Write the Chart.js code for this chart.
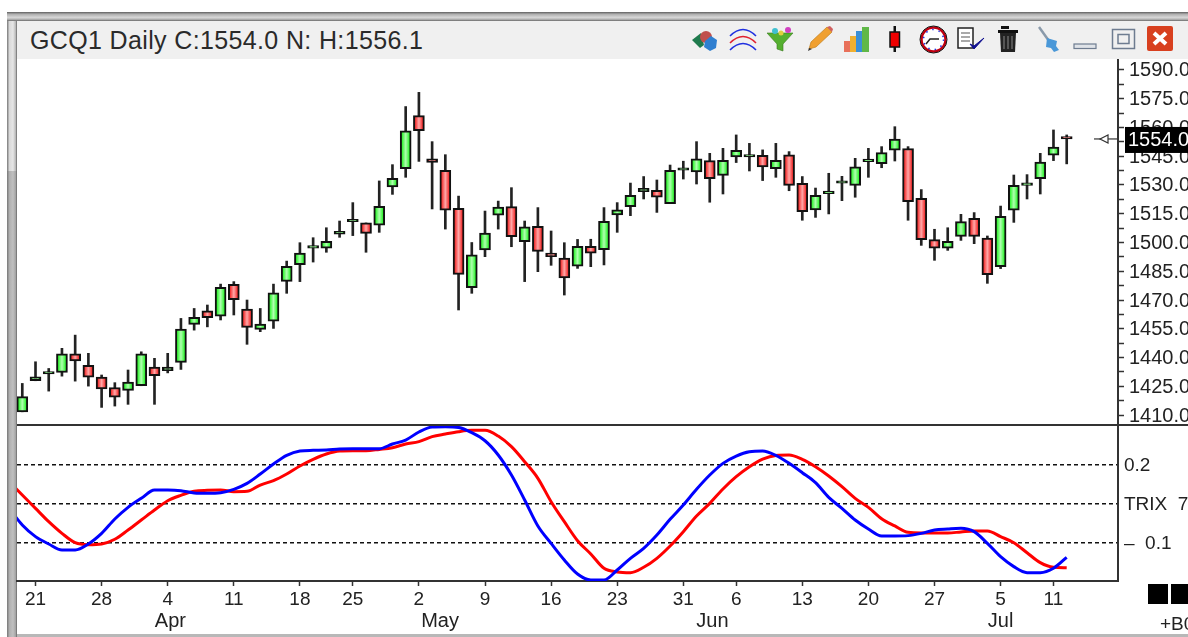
<!DOCTYPE html>
<html>
<head>
<meta charset="utf-8">
<title>GCQ1 Daily</title>
<script src="https://cdn.jsdelivr.net/npm/chart.js@4"></script>
<style>
  html, body { margin: 0; padding: 0; background: #fff; overflow: hidden; }
  body { width: 1188px; height: 637px; position: relative; font-family: "Liberation Sans", Arial, sans-serif; }
  .abs { position: absolute; }
  #frameTop { left: 7px; top: 12px; width: 1181px; height: 9px; background: linear-gradient(#5e5e5e, #b0b0b0 25%, #d6d6d6 60%, #b8b8b8 80%, #6a6a6a); }
  #frameLeftA { left: 7px; top: 21px; width: 10px; height: 150px; background: linear-gradient(90deg, #777, #d9d9d9 25%, #e6e6e6 60%, #bbb 85%, #666); }
  #frameLeftB { left: 7px; top: 171px; width: 10px; height: 466px; background: linear-gradient(90deg, #777, #b0b0b0 25%, #c0c0c0 60%, #a5a5a5 85%, #666); }
  #frameBottom { left: 17px; top: 634px; width: 1171px; height: 3px; background: #b8b8b8; }
  #header { left: 17px; top: 21px; width: 1171px; height: 38px; background: #f0f0f0; }
  #title { left: 30px; top: 25px; font-size: 25px; line-height: 30px; letter-spacing: 0.36px; color: #2a2a2a; white-space: pre; }
  #split { left: 17px; top: 424px; width: 1171px; height: 2px; background: #333; }
  #main { left: 0; top: 59px; }
  #lower { left: 0; top: 426px; }
  .sq { top: 584px; height: 20px; background: #000; }
  #plus { left: 1160px; top: 613px; font-size: 19px; line-height: 22px; color: #222; white-space: pre; }
</style>
</head>
<body>
<div class="abs" id="frameTop"></div>
<div class="abs" id="frameLeftA"></div>
<div class="abs" id="frameLeftB"></div>
<div class="abs" id="frameBottom"></div>
<div class="abs" id="header"></div>
<div class="abs" id="title">GCQ1 Daily C:1554.0 N: H:1556.1</div>
<svg class="abs" style="left:0;top:0" width="1188" height="60" xmlns="http://www.w3.org/2000/svg">
  <!-- gems -->
  <path d="M692 40l9-7 3 12-4 3z" fill="#1f7a4d"/>
  <circle cx="706" cy="37" r="6" fill="#c0504d"/>
  <path d="M705 41l6-5 6 4-1 8-6 3-6-4z" fill="#2f7fd0"/>
  <!-- arcs -->
  <g fill="none" stroke-width="1.6">
    <path d="M730 36q13-13 26 0" stroke="#2030e0"/>
    <path d="M730 43q13-13 26 0" stroke="#e02030"/>
    <path d="M730 50q13-13 26 0" stroke="#2030e0"/>
  </g>
  <!-- funnel -->
  <path d="M767 33h26l-10 11v7l-6-2v-5z" fill="#55b030" stroke="#3a7a20" stroke-width=".6"/>
  <circle cx="775" cy="31" r="3" fill="#40c0d0"/>
  <circle cx="788" cy="30" r="3" fill="#d040c0"/>
  <circle cx="781" cy="33" r="2.5" fill="#e0d040"/>
  <!-- pencil -->
  <path d="M809 49l2-7 16-15 5 5-16 15z" fill="#f0a030" stroke="#c08020" stroke-width=".7"/>
  <path d="M827 27l5 5 1-3-3-3z" fill="#d06060"/>
  <path d="M808 51l1-3 3 1z" fill="#333"/>
  <!-- bars -->
  <rect x="844" y="41" width="6" height="11" fill="#e8705a"/>
  <rect x="850" y="36" width="6" height="16" fill="#f0b030"/>
  <rect x="856" y="31" width="6" height="21" fill="#3a90d8"/>
  <rect x="862" y="27" width="7" height="25" fill="#60b848"/>
  <!-- candle -->
  <rect x="893.5" y="26" width="2.5" height="26" fill="#111"/>
  <rect x="890" y="32" width="9.5" height="15" fill="#f00000" stroke="#111" stroke-width="1.5"/>
  <!-- clock -->
  <circle cx="933.500" cy="39.500" r="12" fill="#fff" stroke="#c00010" stroke-width="2.500"/>
  <circle cx="933.500" cy="39.500" r="13.500" fill="none" stroke="#111" stroke-width="1"/>
  <path d="M926 44l4-5h9" fill="none" stroke="#222" stroke-width="1.500"/>
  <circle cx="933.500" cy="39.500" r="10" fill="none" stroke="#2030e0" stroke-width="1.500" stroke-dasharray="1.500 5"/>
  <!-- list -->
  <rect x="958" y="28" width="15" height="20" fill="#fff" stroke="#222" stroke-width="1.500"/>
  <path d="M961 33h9M961 37h9M961 41h9" stroke="#555" stroke-width="1.200"/>
  <path d="M970 44l4 5 10-11-10 8z" fill="#101090" stroke="#101090"/>
  <!-- trash -->
  <path d="M1001 26h8v3h-8zM998 30h20v3h-20z" fill="#111"/>
  <path d="M1000 33h16l-1 19h-14z" fill="#222"/>
  <path d="M1004 36v13M1008 36v13M1012 36v13" stroke="#888" stroke-width="1"/>
  <!-- pin -->
  <path d="M1039 27l10 14" stroke="#8a9aaa" stroke-width="2.500"/>
  <path d="M1047 38l10 3-1 5 3 4-5 2-3-4-5-1z" fill="#4a98d8"/>
  <!-- window buttons -->
  <rect x="1074" y="44" width="22" height="4.500" fill="#dfe3e8" stroke="#6e7c90" stroke-width="1.200"/>
  <rect x="1112.500" y="29.500" width="22" height="19" fill="none" stroke="#6e7c90" stroke-width="1.500"/>
  <rect x="1118" y="34.500" width="11" height="9" fill="none" stroke="#6e7c90" stroke-width="1.500"/>
  <rect x="1147" y="26" width="26" height="25" rx="2" fill="#d8401f"/>
  <path d="M1154 33l12 11M1166 33l-12 11" stroke="#fff" stroke-width="4"/>
</svg>

<canvas class="abs" id="main" width="1188" height="367" style="width:1188px;height:367px"></canvas>
<canvas class="abs" id="lower" width="1188" height="211" style="width:1188px;height:211px"></canvas>
<div class="abs" id="split"></div>
<div class="abs sq" style="left:1148px;width:20px"></div>
<div class="abs sq" style="left:1171px;width:17px"></div>
<div class="abs" id="plus">+B0</div>

<script>
// bars, one per trading day
const opens = [1411.7,1427.9,1431.4,1432.2,1442,1435.9,1429.8,1424.4,1422.9,1425.3,
  1435,1433.1,1437.5,1457.3,1464.4,1461.6,1478.2,1465.3,1454.7,1459,
  1479.7,1488.4,1497.1,1497,1504.4,1510.8,1510.2,1509.1,1529,1538.5,
  1566.2,1543.7,1537.6,1517.8,1476.4,1496.1,1514.3,1518.7,1500.4,1508.4,
  1494.5,1491.9,1487.6,1498,1496.3,1514.4,1518.7,1526.5,1527.2,1520.3,
  1537.7,1536.8,1542.7,1535,1544.6,1544.6,1545.5,1538.5,1545.7,1530.9,
  1517,1525.5,1530.9,1529.8,1542.2,1541.1,1548.1,1549,1523,1501.5,
  1497,1503.2,1512.6,1502.3,1487.4,1516.8,1529.8,1533.3,1545.5,1554.9];
const highs = [1426.5,1437.8,1434.3,1444.8,1451.7,1442.2,1430.9,1426.9,1433.5,1443,
  1439.6,1442.2,1460.4,1465.6,1467.4,1478.3,1479.6,1470,1465.6,1478.3,
  1490.3,1499.9,1502.5,1507.7,1511.2,1520.8,1510.2,1532.1,1540.6,1570.9,
  1578.3,1552.6,1545.8,1524.2,1500,1516.4,1521.6,1528.6,1511.2,1518.2,
  1506,1499.9,1501.6,1501.7,1518.2,1520.8,1531,1534.4,1532.6,1540.4,
  1542.4,1552.6,1546.5,1549.1,1556.1,1551.7,1548.3,1551.7,1547.4,1534.4,
  1528.4,1536.1,1534.5,1543.9,1549.1,1550,1560.4,1550,1527.6,1506.9,
  1507.7,1514.7,1515.6,1503.4,1519,1535.2,1535.4,1546.5,1558.7,1556.1];
const lows = [1411.7,1427.9,1422.5,1430.3,1427.7,1425.1,1414,1414.7,1415.6,1425.3,
  1415.6,1432,1433.8,1454.3,1456,1459.6,1462.2,1446.9,1453.5,1455.2,
  1473.5,1479.6,1489.8,1494.9,1502.7,1503.6,1494.9,1505.3,1525.1,1534,
  1542.3,1517.5,1507,1464.8,1473.5,1492.6,1507,1497.8,1479.6,1484.8,
  1488.1,1472.6,1486.5,1487.4,1488.3,1505.3,1514,1522.7,1515.7,1520.3,
  1533.1,1530.5,1521,1525.3,1541.7,1537.3,1532.3,1534,1527,1511.6,
  1513.1,1514.9,1521.8,1523.6,1534,1539,1542.5,1511.6,1498.5,1490.7,
  1495.9,1501.1,1499.4,1478.7,1486.4,1510.5,1522.7,1525.3,1542.7,1541];
const closes = [1419.6,1430,1431.9,1442,1438.3,1429.8,1423.7,1419.4,1427.2,1442,
  1430.5,1435,1454.9,1461,1460.8,1476.6,1470.2,1455.7,1457.5,1473.8,
  1487.6,1494.5,1498.2,1500.6,1505.8,1511.2,1504.8,1518.9,1533.5,1558.3,
  1558.3,1541.8,1516.8,1483.4,1493.6,1504.9,1518.5,1503,1508.2,1495.4,
  1492.6,1481.5,1498,1494.5,1511,1517,1524.6,1528.3,1523.7,1537.7,
  1538.7,1543.7,1533.3,1542.9,1548.1,1545.5,1539.4,1542.9,1529.8,1516.1,
  1524.6,1526.4,1531.6,1539.4,1542.9,1546.9,1554,1521.3,1501.5,1497.1,
  1500.6,1510.9,1503.2,1483.2,1513.7,1529.8,1530.9,1542,1549.8,1554];

// TRIX lines, first value is the day before the first bar
const trixBlue = [.1436,.1222,.1073,.0979,.0902,.0902,.0979,.1115,.1299,.1449,
  .1564,.1671,.1671,.1662,.1633,.1628,.1637,.1680,.1756,.1876,
  .2004,.2115,.2171,.2180,.2184,.2197,.2201,.2201,.2201,.2261,
  .2312,.2415,.2479,.2483,.2474,.2406,.2303,.2120,.1863,.1543,
  .1210,.0987,.0774,.0594,.0517,.0517,.0645,.0795,.0923,.1094,
  .1295,.1479,.1680,.1863,.2013,.2107,.2162,.2171,.2115,.2013,
  .1893,.1765,.1577,.1436,.1286,.1171,.1081,.1081,.1086,.1115,
  .1158,.1171,.1180,.1137,.0987,.0816,.0688,.0611,.0611,.0667,.0808];
const trixRed = [.1778,.1607,.1436,.1265,.1115,.0995,.0970,.0979,.1039,.1158,
  .1286,.1415,.1534,.1603,.1654,.1667,.1671,.1650,.1654,.1735,
  .1791,.1876,.1979,.2064,.2133,.2171,.2175,.2175,.2192,.2214,
  .2261,.2291,.2355,.2389,.2419,.2436,.2436,.2363,.2227,.2034,
  .1821,.1521,.1265,.1021,.0851,.0667,.0620,.0611,.0680,.0795,
  .0953,.1137,.1338,.1500,.1684,.1842,.1970,.2068,.2115,.2120,
  .2064,.1970,.1851,.1714,.1564,.1449,.1303,.1210,.1128,.1120,
  .1120,.1120,.1133,.1145,.1145,.1073,.0995,.0867,.0739,.0680,.0675];

// axis labels
const priceTicks = [1590,1575,1560,1545,1530,1515,1500,1485,1470,1455,1440,1425,1410];
const dayTickBars = [1,6,11,16,21,25,30,35,40,45,50,54,59,64,69,74,78];
const dayTickLabels = ["21","28","4","11","18","25","2","9","16","23","31","6","13","20","27","5","11"];
const monthBars = [11.2,31.6,52.2,74];
const monthLabels = ["Apr","May","Jun","Jul"];
const trixTicks = [0.1,0.15,0.2];
const trixTickLabels = ["\u2013  0.1","TRIX  7","0.2"];

const barIndex = opens.map((v, i) => i);
const lineIndex = trixBlue.map((v, i) => i - 1);
const wicks = barIndex.map((i) => [lows[i], highs[i]]);
const bodies = barIndex.map((i) => [opens[i], closes[i]]);

const xMin = -0.4;
const xMax = 82.88;
const LABEL_FONT = '"Liberation Sans", Arial, sans-serif';

Chart.defaults.animation = false;
Chart.defaults.responsive = false;
Chart.defaults.plugins.legend.display = false;
Chart.defaults.plugins.tooltip.enabled = false;

function bodyFill(ctx) {
  const i = ctx.dataIndex;
  const up = closes[i] >= opens[i];
  const flat = up ? "#00f000" : "#f00000";
  const x = ctx.chart.scales.x.getPixelForValue(i);
  // scale isn't laid out yet on the first pass
  if (!Number.isFinite(x)) return flat;
  const g = ctx.chart.ctx.createLinearGradient(x - 5, 0, x + 5, 0);
  g.addColorStop(0, flat);
  g.addColorStop(0.5, up ? "#b0ffb0" : "#ffa8a8");
  g.addColorStop(1, flat);
  return g;
}

// last price flag on the right axis
const lastPrice = {
  id: "lastPrice",
  afterDraw(chart) {
    const c = chart.ctx;
    const close = closes[closes.length - 1];
    const y = chart.scales.y.getPixelForValue(close);
    c.save();
    c.fillStyle = "#000";
    c.fillRect(1125, y - 12, 63, 26);
    c.fillStyle = "#fff";
    c.font = "20px " + LABEL_FONT;
    c.textBaseline = "middle";
    c.fillText(close.toFixed(1), 1128, y + 2);
    c.strokeStyle = "#333";
    c.lineWidth = 1.2;
    c.beginPath();
    c.moveTo(1094, y);
    c.lineTo(1117, y);
    c.stroke();
    c.fillStyle = "#fff";
    c.beginPath();
    c.moveTo(1100, y);
    c.lineTo(1108, y - 4);
    c.lineTo(1108, y + 4);
    c.closePath();
    c.fill();
    c.stroke();
    c.restore();
  },
};

new Chart(document.getElementById("main"), {
  type: "bar",
  plugins: [lastPrice],
  data: {
    labels: barIndex,
    datasets: [
      {
        data: bodies,
        backgroundColor: bodyFill,
        borderColor: "#111",
        borderWidth: 2,
        borderSkipped: false,
        barThickness: 11,
        minBarLength: 2.5,
        grouped: false,
        order: 1,
      },
      {
        data: wicks,
        backgroundColor: "#222",
        borderWidth: 0,
        barThickness: 2,
        grouped: false,
        order: 2,
      },
    ],
  },
  options: {
    layout: { padding: { left: 17, right: 0, top: 0, bottom: 0 } },
    scales: {
      x: { type: "linear", min: xMin, max: xMax, offset: false, display: false },
      y: {
        position: "right",
        min: 1404.3,
        max: 1595.7,
        afterBuildTicks(s) {
          const all = [];
          priceTicks.forEach((p) => {
            all.push({ value: p });
            all.push({ value: p - 7.5 });
          });
          s.ticks = all;
        },
        afterFit(s) {
          s.width = 70;
          s.paddingTop = 0;
          s.paddingBottom = 0;
        },
        border: { color: "#333", width: 2 },
        grid: { drawOnChartArea: false, tickColor: "#333", tickLength: 6, tickWidth: 1.5 },
        ticks: {
          autoSkip: false,
          padding: 5,
          labelOffset: 1,
          color: "#222",
          font: { family: LABEL_FONT, size: 20 },
          callback: (v) => (priceTicks.includes(v) ? v.toFixed(1) : ""),
        },
      },
    },
  },
});

new Chart(document.getElementById("lower"), {
  type: "line",
  data: {
    labels: lineIndex,
    datasets: [
      { data: trixBlue, borderColor: "#0000ff", borderWidth: 3, pointRadius: 0, cubicInterpolationMode: "monotone" },
      { data: trixRed, borderColor: "#ff0000", borderWidth: 3, pointRadius: 0, cubicInterpolationMode: "monotone" },
    ],
  },
  options: {
    layout: { padding: { left: 17, right: 0, top: 0, bottom: 0 } },
    scales: {
      x: {
        type: "linear",
        min: xMin,
        max: xMax,
        afterBuildTicks(s) {
          s.ticks = dayTickBars.map((v) => ({ value: v }));
        },
        afterFit(s) {
          s.height = 30;
          s.paddingLeft = 0;
          s.paddingRight = 0;
        },
        border: { color: "#333", width: 2 },
        grid: { drawOnChartArea: false, tickColor: "#333", tickLength: 5, tickWidth: 1.5 },
        ticks: {
          autoSkip: false,
          maxRotation: 0,
          padding: 2,
          color: "#222",
          font: { family: LABEL_FONT, size: 19 },
          callback: (v, i) => dayTickLabels[i],
        },
      },
      months: {
        type: "linear",
        axis: "x",
        position: "bottom",
        min: xMin,
        max: xMax,
        afterBuildTicks(s) {
          s.ticks = monthBars.map((v) => ({ value: v }));
        },
        afterFit(s) {
          s.height = 26;
          s.paddingLeft = 0;
          s.paddingRight = 0;
        },
        border: { display: false },
        grid: { display: false, drawTicks: false },
        ticks: {
          autoSkip: false,
          maxRotation: 0,
          padding: -2,
          color: "#222",
          font: { family: LABEL_FONT, size: 20 },
          callback: (v, i) => monthLabels[i],
        },
      },
      y: {
        position: "right",
        min: 0.0504,
        max: 0.2492,
        afterBuildTicks(s) {
          s.ticks = trixTicks.map((v) => ({ value: v }));
        },
        afterFit(s) {
          s.width = 70;
          s.paddingTop = 0;
          s.paddingBottom = 0;
        },
        border: { color: "#333", width: 2, dash: [4, 3] },
        grid: { color: "#111", lineWidth: 1.5, drawTicks: false, tickLength: 0 },
        ticks: {
          autoSkip: false,
          padding: 6,
          labelOffset: 1,
          color: "#222",
          font: { family: LABEL_FONT, size: 19 },
          callback: (v, i) => trixTickLabels[i],
        },
      },
    },
  },
});
</script>
</body>
</html>
